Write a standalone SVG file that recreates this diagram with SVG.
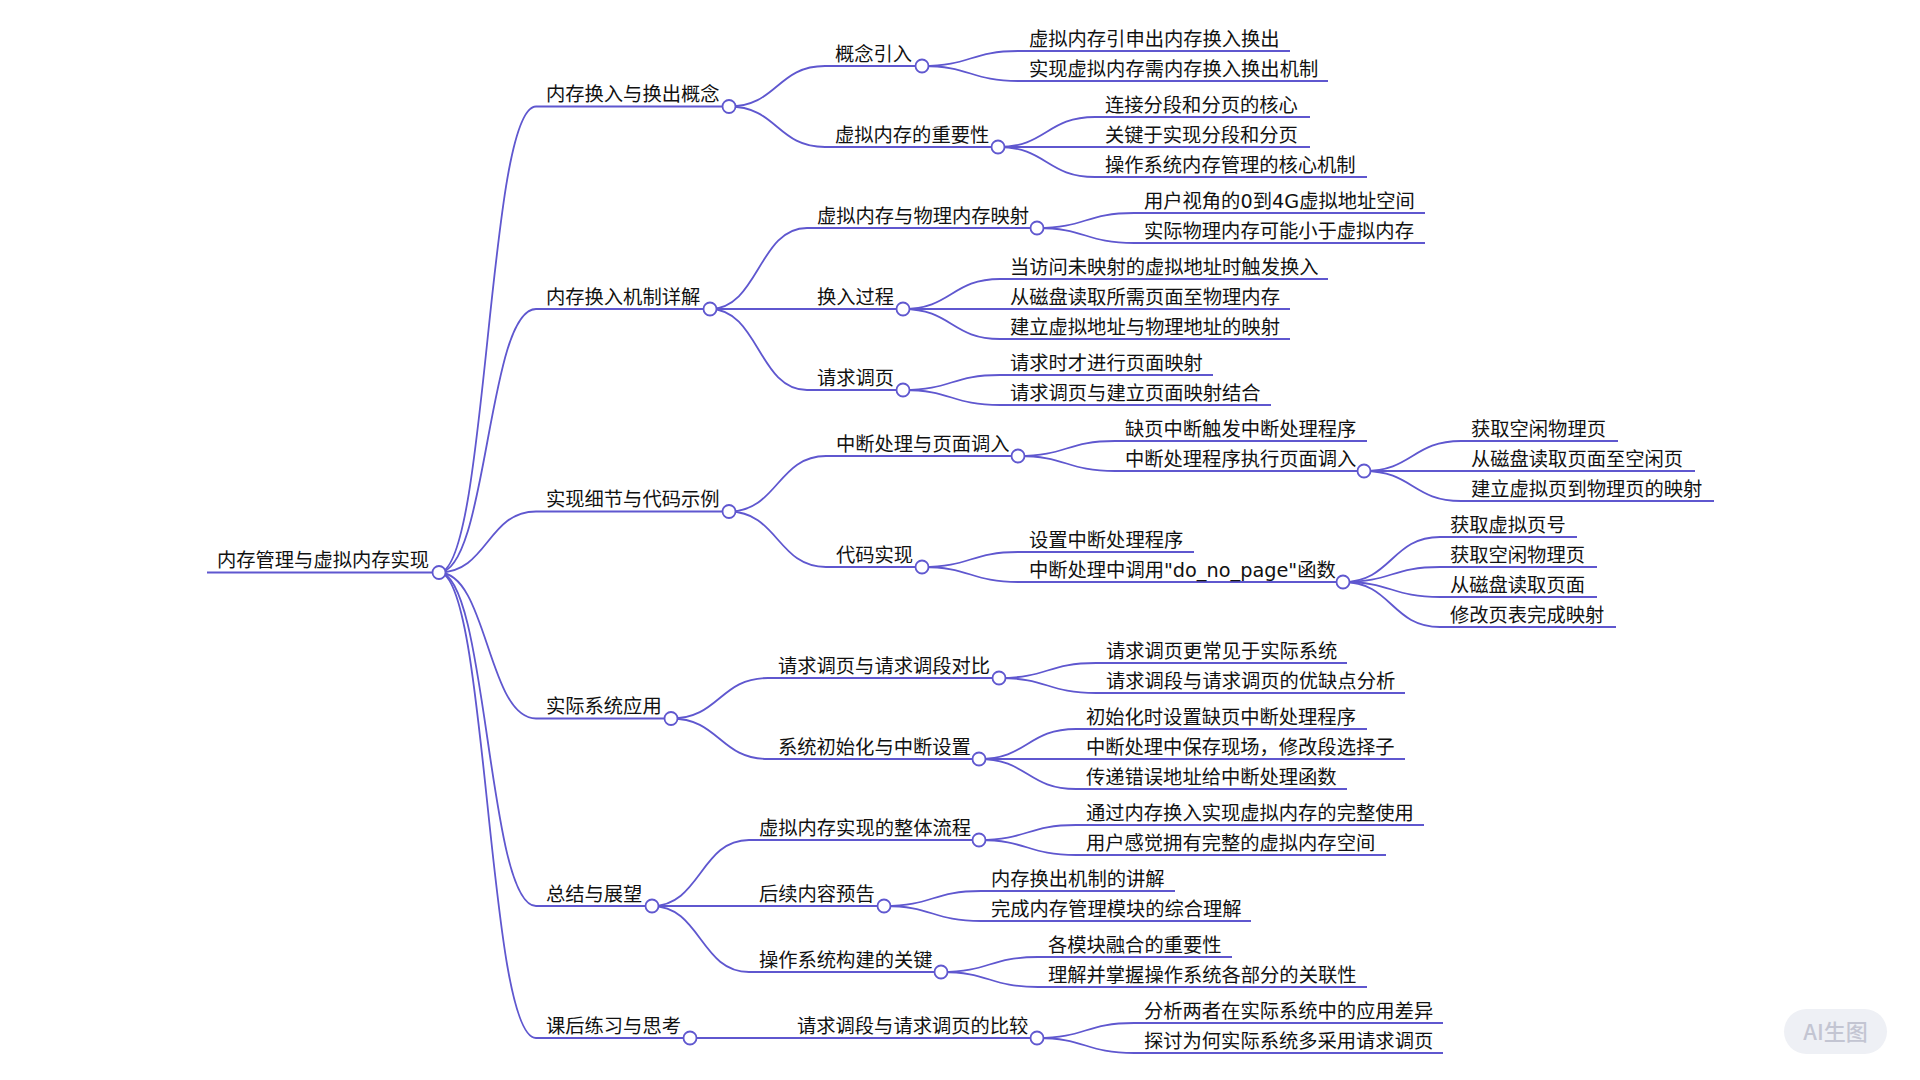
<svg xmlns="http://www.w3.org/2000/svg" width="1920" height="1080" viewBox="0 0 1920 1080">
<style>
.link{fill:none;stroke:#5f57cf;stroke-width:1.8}
.ul{stroke:#5f57cf;stroke-width:1.8}
.dot{fill:#fff;stroke:#5f57cf;stroke-width:1.8}
.t{font-family:"DejaVu Sans","Noto Sans CJK SC",sans-serif;font-size:19.3px;fill:#111111}
.wm{font-family:"Noto Sans CJK SC",sans-serif;font-size:22px;font-weight:500;fill:#c3c5d2}
</style>
<rect width="1920" height="1080" fill="#ffffff"/>
<g id="connectors">
<path class="link" d="M439,572.5 C487.5,572.5 487.5,106.5 536,106.5"/>
<path class="link" d="M439,572.5 C487.5,572.5 487.5,309 536,309"/>
<path class="link" d="M439,572.5 C487.5,572.5 487.5,511.5 536,511.5"/>
<path class="link" d="M439,572.5 C487.5,572.5 487.5,718.5 536,718.5"/>
<path class="link" d="M439,572.5 C487.5,572.5 487.5,906 536,906"/>
<path class="link" d="M439,572.5 C487.5,572.5 487.5,1038 536,1038"/>
<path class="link" d="M729,106.5 C777,106.5 777,66 825,66"/>
<path class="link" d="M729,106.5 C777,106.5 777,147 825,147"/>
<path class="link" d="M922,66 C970.5,66 970.5,51 1019,51"/>
<path class="link" d="M922,66 C970.5,66 970.5,81 1019,81"/>
<path class="link" d="M998,147 C1046.5,147 1046.5,117 1095,117"/>
<path class="link" d="M998,147 L1095,147"/>
<path class="link" d="M998,147 C1046.5,147 1046.5,177 1095,177"/>
<path class="link" d="M710,309 C758.5,309 758.5,228 807,228"/>
<path class="link" d="M710,309 L807,309"/>
<path class="link" d="M710,309 C758.5,309 758.5,390 807,390"/>
<path class="link" d="M1037,228 C1085.5,228 1085.5,213 1134,213"/>
<path class="link" d="M1037,228 C1085.5,228 1085.5,243 1134,243"/>
<path class="link" d="M903,309 C951.5,309 951.5,279 1000,279"/>
<path class="link" d="M903,309 L1000,309"/>
<path class="link" d="M903,309 C951.5,309 951.5,339 1000,339"/>
<path class="link" d="M903,390 C951.5,390 951.5,375 1000,375"/>
<path class="link" d="M903,390 C951.5,390 951.5,405 1000,405"/>
<path class="link" d="M729,511.5 C777.5,511.5 777.5,456 826,456"/>
<path class="link" d="M729,511.5 C777.5,511.5 777.5,567 826,567"/>
<path class="link" d="M1018,456 C1066.5,456 1066.5,441 1115,441"/>
<path class="link" d="M1018,456 C1066.5,456 1066.5,471 1115,471"/>
<path class="link" d="M1364,471 C1412.5,471 1412.5,441 1461,441"/>
<path class="link" d="M1364,471 L1461,471"/>
<path class="link" d="M1364,471 C1412.5,471 1412.5,501 1461,501"/>
<path class="link" d="M922,567 C970.5,567 970.5,552 1019,552"/>
<path class="link" d="M922,567 C970.5,567 970.5,582 1019,582"/>
<path class="link" d="M1343,582 C1391.5,582 1391.5,537 1440,537"/>
<path class="link" d="M1343,582 C1391.5,582 1391.5,567 1440,567"/>
<path class="link" d="M1343,582 C1391.5,582 1391.5,597 1440,597"/>
<path class="link" d="M1343,582 C1391.5,582 1391.5,627 1440,627"/>
<path class="link" d="M671,718.5 C719.5,718.5 719.5,678 768,678"/>
<path class="link" d="M671,718.5 C719.5,718.5 719.5,759 768,759"/>
<path class="link" d="M999,678 C1047.5,678 1047.5,663 1096,663"/>
<path class="link" d="M999,678 C1047.5,678 1047.5,693 1096,693"/>
<path class="link" d="M979,759 C1027.5,759 1027.5,729 1076,729"/>
<path class="link" d="M979,759 L1076,759"/>
<path class="link" d="M979,759 C1027.5,759 1027.5,789 1076,789"/>
<path class="link" d="M652,906 C700.5,906 700.5,840 749,840"/>
<path class="link" d="M652,906 L749,906"/>
<path class="link" d="M652,906 C700.5,906 700.5,972 749,972"/>
<path class="link" d="M979,840 C1027.5,840 1027.5,825 1076,825"/>
<path class="link" d="M979,840 C1027.5,840 1027.5,855 1076,855"/>
<path class="link" d="M884,906 C932.5,906 932.5,891 981,891"/>
<path class="link" d="M884,906 C932.5,906 932.5,921 981,921"/>
<path class="link" d="M941,972 C989.5,972 989.5,957 1038,957"/>
<path class="link" d="M941,972 C989.5,972 989.5,987 1038,987"/>
<path class="link" d="M690,1038 L787,1038"/>
<path class="link" d="M1037,1038 C1085.5,1038 1085.5,1023 1134,1023"/>
<path class="link" d="M1037,1038 C1085.5,1038 1085.5,1053 1134,1053"/>
</g>

<g id="n-root"><line class="ul" x1="207" y1="572.5" x2="439" y2="572.5"/><text class="t" x="217" y="567">内存管理与虚拟内存实现</text><circle class="dot" cx="439" cy="572.5" r="6.5"/></g>

<g id="n1"><line class="ul" x1="536" y1="106.5" x2="729" y2="106.5"/><text class="t" x="546" y="101">内存换入与换出概念</text><circle class="dot" cx="729" cy="106.5" r="6.5"/></g>
<g id="n1-1"><line class="ul" x1="825" y1="66" x2="922" y2="66"/><text class="t" x="835" y="60.5">概念引入</text><circle class="dot" cx="922" cy="66" r="6.5"/></g>
<g id="n1-1-1"><line class="ul" x1="1019" y1="51" x2="1290" y2="51"/><text class="t" x="1029" y="45.5">虚拟内存引申出内存换入换出</text></g>
<g id="n1-1-2"><line class="ul" x1="1019" y1="81" x2="1328" y2="81"/><text class="t" x="1029" y="75.5">实现虚拟内存需内存换入换出机制</text></g>
<g id="n1-2"><line class="ul" x1="825" y1="147" x2="998" y2="147"/><text class="t" x="835" y="141.5">虚拟内存的重要性</text><circle class="dot" cx="998" cy="147" r="6.5"/></g>
<g id="n1-2-1"><line class="ul" x1="1095" y1="117" x2="1310" y2="117"/><text class="t" x="1105" y="111.5">连接分段和分页的核心</text></g>
<g id="n1-2-2"><line class="ul" x1="1095" y1="147" x2="1310" y2="147"/><text class="t" x="1105" y="141.5">关键于实现分段和分页</text></g>
<g id="n1-2-3"><line class="ul" x1="1095" y1="177" x2="1367" y2="177"/><text class="t" x="1105" y="171.5">操作系统内存管理的核心机制</text></g>

<g id="n2"><line class="ul" x1="536" y1="309" x2="710" y2="309"/><text class="t" x="546" y="303.5">内存换入机制详解</text><circle class="dot" cx="710" cy="309" r="6.5"/></g>
<g id="n2-1"><line class="ul" x1="807" y1="228" x2="1037" y2="228"/><text class="t" x="817" y="222.5">虚拟内存与物理内存映射</text><circle class="dot" cx="1037" cy="228" r="6.5"/></g>
<g id="n2-1-1"><line class="ul" x1="1134" y1="213" x2="1425" y2="213"/><text class="t" x="1144" y="207.5">用户视角的0到4G虚拟地址空间</text></g>
<g id="n2-1-2"><line class="ul" x1="1134" y1="243" x2="1425" y2="243"/><text class="t" x="1144" y="237.5">实际物理内存可能小于虚拟内存</text></g>
<g id="n2-2"><line class="ul" x1="807" y1="309" x2="903" y2="309"/><text class="t" x="817" y="303.5">换入过程</text><circle class="dot" cx="903" cy="309" r="6.5"/></g>
<g id="n2-2-1"><line class="ul" x1="1000" y1="279" x2="1328" y2="279"/><text class="t" x="1010" y="273.5">当访问未映射的虚拟地址时触发换入</text></g>
<g id="n2-2-2"><line class="ul" x1="1000" y1="309" x2="1290" y2="309"/><text class="t" x="1010" y="303.5">从磁盘读取所需页面至物理内存</text></g>
<g id="n2-2-3"><line class="ul" x1="1000" y1="339" x2="1290" y2="339"/><text class="t" x="1010" y="333.5">建立虚拟地址与物理地址的映射</text></g>
<g id="n2-3"><line class="ul" x1="807" y1="390" x2="903" y2="390"/><text class="t" x="817" y="384.5">请求调页</text><circle class="dot" cx="903" cy="390" r="6.5"/></g>
<g id="n2-3-1"><line class="ul" x1="1000" y1="375" x2="1213" y2="375"/><text class="t" x="1010" y="369.5">请求时才进行页面映射</text></g>
<g id="n2-3-2"><line class="ul" x1="1000" y1="405" x2="1271" y2="405"/><text class="t" x="1010" y="399.5">请求调页与建立页面映射结合</text></g>

<g id="n3"><line class="ul" x1="536" y1="511.5" x2="729" y2="511.5"/><text class="t" x="546" y="506">实现细节与代码示例</text><circle class="dot" cx="729" cy="511.5" r="6.5"/></g>
<g id="n3-1"><line class="ul" x1="826" y1="456" x2="1018" y2="456"/><text class="t" x="836" y="450.5">中断处理与页面调入</text><circle class="dot" cx="1018" cy="456" r="6.5"/></g>
<g id="n3-1-1"><line class="ul" x1="1115" y1="441" x2="1367" y2="441"/><text class="t" x="1125" y="435.5">缺页中断触发中断处理程序</text></g>
<g id="n3-1-2"><line class="ul" x1="1115" y1="471" x2="1364" y2="471"/><text class="t" x="1125" y="465.5">中断处理程序执行页面调入</text><circle class="dot" cx="1364" cy="471" r="6.5"/></g>
<g id="n3-1-2-1"><line class="ul" x1="1461" y1="441" x2="1618" y2="441"/><text class="t" x="1471" y="435.5">获取空闲物理页</text></g>
<g id="n3-1-2-2"><line class="ul" x1="1461" y1="471" x2="1695" y2="471"/><text class="t" x="1471" y="465.5">从磁盘读取页面至空闲页</text></g>
<g id="n3-1-2-3"><line class="ul" x1="1461" y1="501" x2="1714" y2="501"/><text class="t" x="1471" y="495.5">建立虚拟页到物理页的映射</text></g>
<g id="n3-2"><line class="ul" x1="826" y1="567" x2="922" y2="567"/><text class="t" x="836" y="561.5">代码实现</text><circle class="dot" cx="922" cy="567" r="6.5"/></g>
<g id="n3-2-1"><line class="ul" x1="1019" y1="552" x2="1194" y2="552"/><text class="t" x="1029" y="546.5">设置中断处理程序</text></g>
<g id="n3-2-2"><line class="ul" x1="1019" y1="582" x2="1343" y2="582"/><text class="t" x="1029" y="576.5">中断处理中调用"do_no_page"函数</text><circle class="dot" cx="1343" cy="582" r="6.5"/></g>
<g id="n3-2-2-1"><line class="ul" x1="1440" y1="537" x2="1577" y2="537"/><text class="t" x="1450" y="531.5">获取虚拟页号</text></g>
<g id="n3-2-2-2"><line class="ul" x1="1440" y1="567" x2="1597" y2="567"/><text class="t" x="1450" y="561.5">获取空闲物理页</text></g>
<g id="n3-2-2-3"><line class="ul" x1="1440" y1="597" x2="1597" y2="597"/><text class="t" x="1450" y="591.5">从磁盘读取页面</text></g>
<g id="n3-2-2-4"><line class="ul" x1="1440" y1="627" x2="1616" y2="627"/><text class="t" x="1450" y="621.5">修改页表完成映射</text></g>

<g id="n4"><line class="ul" x1="536" y1="718.5" x2="671" y2="718.5"/><text class="t" x="546" y="713">实际系统应用</text><circle class="dot" cx="671" cy="718.5" r="6.5"/></g>
<g id="n4-1"><line class="ul" x1="768" y1="678" x2="999" y2="678"/><text class="t" x="778" y="672.5">请求调页与请求调段对比</text><circle class="dot" cx="999" cy="678" r="6.5"/></g>
<g id="n4-1-1"><line class="ul" x1="1096" y1="663" x2="1347" y2="663"/><text class="t" x="1106" y="657.5">请求调页更常见于实际系统</text></g>
<g id="n4-1-2"><line class="ul" x1="1096" y1="693" x2="1405" y2="693"/><text class="t" x="1106" y="687.5">请求调段与请求调页的优缺点分析</text></g>
<g id="n4-2"><line class="ul" x1="768" y1="759" x2="979" y2="759"/><text class="t" x="778" y="753.5">系统初始化与中断设置</text><circle class="dot" cx="979" cy="759" r="6.5"/></g>
<g id="n4-2-1"><line class="ul" x1="1076" y1="729" x2="1367" y2="729"/><text class="t" x="1086" y="723.5">初始化时设置缺页中断处理程序</text></g>
<g id="n4-2-2"><line class="ul" x1="1076" y1="759" x2="1405" y2="759"/><text class="t" x="1086" y="753.5">中断处理中保存现场，修改段选择子</text></g>
<g id="n4-2-3"><line class="ul" x1="1076" y1="789" x2="1347" y2="789"/><text class="t" x="1086" y="783.5">传递错误地址给中断处理函数</text></g>

<g id="n5"><line class="ul" x1="536" y1="906" x2="652" y2="906"/><text class="t" x="546" y="900.5">总结与展望</text><circle class="dot" cx="652" cy="906" r="6.5"/></g>
<g id="n5-1"><line class="ul" x1="749" y1="840" x2="979" y2="840"/><text class="t" x="759" y="834.5">虚拟内存实现的整体流程</text><circle class="dot" cx="979" cy="840" r="6.5"/></g>
<g id="n5-1-1"><line class="ul" x1="1076" y1="825" x2="1424" y2="825"/><text class="t" x="1086" y="819.5">通过内存换入实现虚拟内存的完整使用</text></g>
<g id="n5-1-2"><line class="ul" x1="1076" y1="855" x2="1386" y2="855"/><text class="t" x="1086" y="849.5">用户感觉拥有完整的虚拟内存空间</text></g>
<g id="n5-2"><line class="ul" x1="749" y1="906" x2="884" y2="906"/><text class="t" x="759" y="900.5">后续内容预告</text><circle class="dot" cx="884" cy="906" r="6.5"/></g>
<g id="n5-2-1"><line class="ul" x1="981" y1="891" x2="1175" y2="891"/><text class="t" x="991" y="885.5">内存换出机制的讲解</text></g>
<g id="n5-2-2"><line class="ul" x1="981" y1="921" x2="1251" y2="921"/><text class="t" x="991" y="915.5">完成内存管理模块的综合理解</text></g>
<g id="n5-3"><line class="ul" x1="749" y1="972" x2="941" y2="972"/><text class="t" x="759" y="966.5">操作系统构建的关键</text><circle class="dot" cx="941" cy="972" r="6.5"/></g>
<g id="n5-3-1"><line class="ul" x1="1038" y1="957" x2="1232" y2="957"/><text class="t" x="1048" y="951.5">各模块融合的重要性</text></g>
<g id="n5-3-2"><line class="ul" x1="1038" y1="987" x2="1367" y2="987"/><text class="t" x="1048" y="981.5">理解并掌握操作系统各部分的关联性</text></g>

<g id="n6"><line class="ul" x1="536" y1="1038" x2="690" y2="1038"/><text class="t" x="546" y="1032.5">课后练习与思考</text><circle class="dot" cx="690" cy="1038" r="6.5"/></g>
<g id="n6-1"><line class="ul" x1="787" y1="1038" x2="1037" y2="1038"/><text class="t" x="797" y="1032.5">请求调段与请求调页的比较</text><circle class="dot" cx="1037" cy="1038" r="6.5"/></g>
<g id="n6-1-1"><line class="ul" x1="1134" y1="1023" x2="1443" y2="1023"/><text class="t" x="1144" y="1017.5">分析两者在实际系统中的应用差异</text></g>
<g id="n6-1-2"><line class="ul" x1="1134" y1="1053" x2="1443" y2="1053"/><text class="t" x="1144" y="1047.5">探讨为何实际系统多采用请求调页</text></g>

<g id="watermark"><rect x="1784" y="1009" width="103" height="45" rx="22.5" fill="#eef0f5"/><text class="wm" x="1835.5" y="1039.5" text-anchor="middle">AI生图</text></g>
</svg>
